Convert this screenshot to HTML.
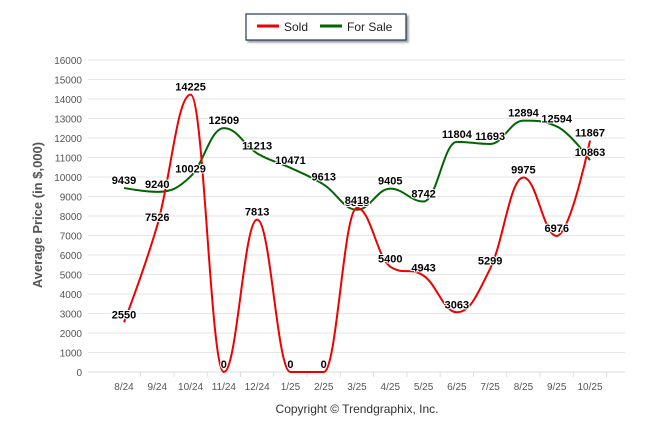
<!DOCTYPE html>
<html><head><meta charset="utf-8"><style>
body{margin:0;background:#fff;font-family:"Liberation Sans",sans-serif}
svg{display:block}
</style></head><body>
<svg width="646" height="434">
<g>
<rect x="246" y="14" width="160" height="26" fill="#fff" stroke="#1f3a60" stroke-width="1.2" style="filter:drop-shadow(2px 2px 1px #999)"/>
<line x1="257" y1="26" x2="279" y2="26" stroke="#e00" stroke-width="3"/>
<text x="284" y="31" font-size="12" fill="#222">Sold</text>
<line x1="320" y1="26" x2="342" y2="26" stroke="#060" stroke-width="3"/>
<text x="347" y="31" font-size="12" fill="#222">For Sale</text>
</g>
<g id="grid"></g>
<text transform="translate(42,215) rotate(-90)" text-anchor="middle" font-size="13" font-weight="bold" fill="#555">Average Price (in $,000)</text>
<text x="357" y="413" text-anchor="middle" font-size="12" fill="#333">Copyright © Trendgraphix, Inc.</text>
<g id="series"></g>
<g id="labels"></g>
</svg>
<script>
const categories=["8/24","9/24","10/24","11/24","12/24","1/25","2/25","3/25","4/25","5/25","6/25","7/25","8/25","9/25","10/25"];
const sold=[2550,7526,14225,0,7813,0,0,8418,5400,4943,3063,5299,9975,6976,11867];
const forSale=[9439,9240,10029,12509,11213,10471,9613,8318,9405,8742,11804,11693,12894,12594,10863];
const yTicks=[0,1000,2000,3000,4000,5000,6000,7000,8000,9000,10000,11000,12000,13000,14000,15000,16000];
const NS="http://www.w3.org/2000/svg";
const x0=88,x1=625,y0=372,y1=60;
const xs=i=>124+i*(590-124)/(categories.length-1);
const ys=v=>y0-(v/16000)*(y0-y1);
function mk(t,a,p){const e=document.createElementNS(NS,t);for(const k in a)e.setAttribute(k,a[k]);p.appendChild(e);return e;}
const grid=document.getElementById('grid');
yTicks.forEach(v=>{
 const l=mk('line',{x1:x0,x2:x1,y1:ys(v),y2:ys(v),stroke:'#e6e6e6'},grid);
 
 
 const t=mk('text',{x:82,y:ys(v)+4,'text-anchor':'end','font-size':10,fill:'#555'},grid);
 t.textContent=v;
 
 
});
categories.forEach((c,i)=>{
 const t=mk('text',{x:xs(i),y:390,'text-anchor':'middle','font-size':10,fill:'#555'},grid);
 t.textContent=c;
 
 
 mk('line',{x1:xs(i)+16.6,x2:xs(i)+16.6,y1:y0,y2:y0+5,stroke:'#ddd'},grid);
});
mk('line',{x1:x0,x2:x1,y1:y0,y2:y0,stroke:'#ddd'},grid);
function path(vals){
 const p=vals.map((v,i)=>[xs(i),ys(v)]);
 const n=p.length,L=[],R=[];
 for(let i=0;i<n;i++){
  const [x,y]=p[i];
  if(i===0||i===n-1){L[i]=[x,y];R[i]=[x,y];continue;}
  const [lx,ly]=p[i-1],[nx,ny]=p[i+1];
  let lcx=(1.5*x+lx)/2.5,lcy=(1.5*y+ly)/2.5,rcx=(1.5*x+nx)/2.5,rcy=(1.5*y+ny)/2.5;
  const corr=((rcy-lcy)*(rcx-x))/(rcx-lcx)+y-rcy;
  lcy+=corr;rcy+=corr;
  if(lcy>ly&&lcy>y){lcy=Math.max(ly,y);rcy=2*y-lcy;}
  else if(lcy<ly&&lcy<y){lcy=Math.min(ly,y);rcy=2*y-lcy;}
  if(rcy>ny&&rcy>y){rcy=Math.max(ny,y);lcy=2*y-rcy;}
  else if(rcy<ny&&rcy<y){rcy=Math.min(ny,y);lcy=2*y-rcy;}
  L[i]=[lcx,lcy];R[i]=[rcx,rcy];
 }
 let d='M'+p[0][0]+','+p[0][1];
 for(let i=1;i<n;i++)d+=` C${R[i-1][0]},${R[i-1][1]} ${L[i][0]},${L[i][1]} ${p[i][0]},${p[i][1]}`;
 return d;
}
const S=document.getElementById('series'),Lb=document.getElementById('labels');
const fs=mk('path',{d:path(forSale),fill:'none',stroke:'#060','stroke-width':2},S);


const sl=mk('path',{d:path(sold),fill:'none',stroke:'#e00','stroke-width':2},S);


function labels(vals,name){
 vals.forEach((v,i)=>{
  const t=mk('text',{x:xs(i),y:ys(v)-4,'text-anchor':'middle','font-size':11,'font-weight':'bold',fill:'#000',stroke:'#fff','stroke-width':2,'paint-order':'stroke'},Lb);
  t.textContent=v;
  
  
 });
}
labels(forSale,'for-sale-value-label');
labels(sold,'sold-value-label');
</script>
</body></html>
